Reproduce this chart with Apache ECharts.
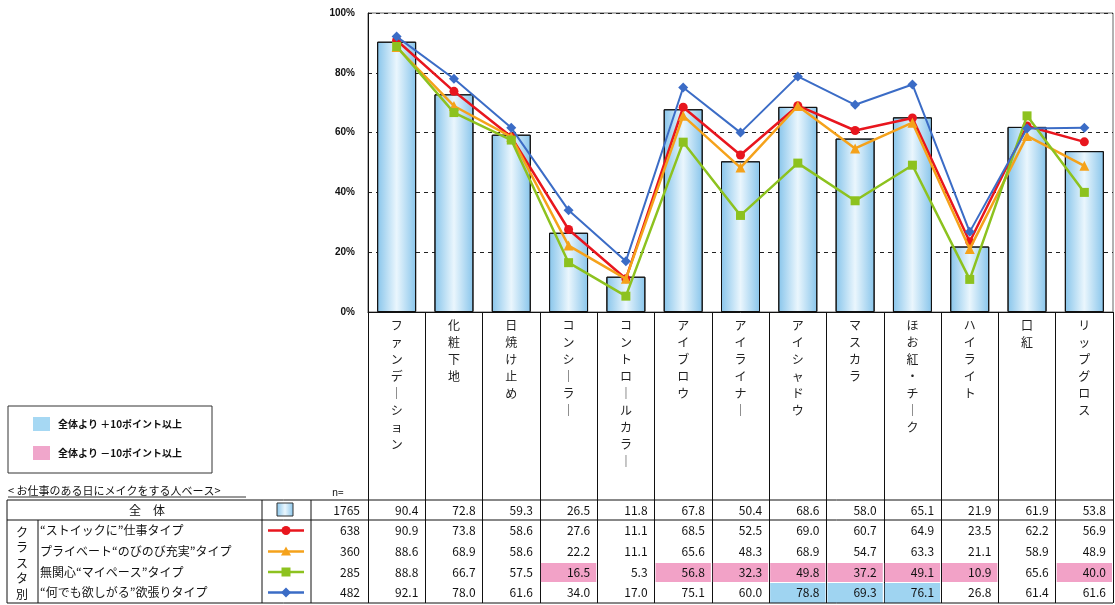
<!DOCTYPE html>
<html><head><meta charset="utf-8">
<script src="https://cdn.jsdelivr.net/npm/echarts@6/dist/echarts.min.js"></script>
<style>html,body{margin:0;padding:0;background:#fff}#c{width:1115px;height:605px}</style>
</head><body><div id="c"></div>
<script>
const categories = ['ファンデーション','化粧下地','日焼け止め','コンシーラー','コントロールカラー','アイブロウ','アイライナー','アイシャドウ','マスカラ','ほお紅・チーク','ハイライト','口紅','リップグロス'];
const totalLabel = '全　体';
const totalN = 1765;
const totalValues = [90.4,72.8,59.3,26.5,11.8,67.8,50.4,68.6,58.0,65.1,21.9,61.9,53.8];
const clusterNames = ['“ストイックに”仕事タイプ','プライベート“のびのび充実”タイプ','無関心“マイペース”タイプ','“何でも欲しがる”欲張りタイプ'];
const clusterN = [638,360,285,482];
const stoicValues = [90.9,73.8,58.6,27.6,11.1,68.5,52.5,69.0,60.7,64.9,23.5,62.2,56.9];
const privateValues = [88.6,68.9,58.6,22.2,11.1,65.6,48.3,68.9,54.7,63.3,21.1,58.9,48.9];
const mypaceValues = [88.8,66.7,57.5,16.5,5.3,56.8,32.3,49.8,37.2,49.1,10.9,65.6,40.0];
const greedyValues = [92.1,78.0,61.6,34.0,17.0,75.1,60.0,78.8,69.3,76.1,26.8,61.4,61.6];
const yTickLabels = ['0%','20%','40%','60%','80%','100%'];
const legendNotes = ['全体より ＋10ポイント以上','全体より －10ポイント以上'];
const baseNote = '< お仕事のある日にメイクをする人ベース>';
const clusterSide = 'クラスタ別';

const clusterValues = [stoicValues, privateValues, mypaceValues, greedyValues];
const lineColors = ['#E8161E','#F5A21B','#8DC21F','#3B6CC6'];
const lineSymbols = ['circle','triangle','rect','diamond'];
const lineSymbolSizes = [9,10,9,10];
const HI_BLUE = '#9FD4F1', HI_PINK = '#F2A2C7';
const FONT = '"Noto Sans CJK JP", "Noto Sans", sans-serif';

const barGrad = new echarts.graphic.LinearGradient(0,0,1,0,[
  {offset:0,color:'#88C5EB'},{offset:0.5,color:'#EAF6FD'},{offset:1,color:'#88C5EB'}]);

const chart = echarts.init(document.getElementById('c'), null, {renderer:'canvas'});

const series = [{
  name: totalLabel, type:'bar', data: totalValues, barWidth: 39,
  itemStyle:{color: barGrad, borderColor:'#111', borderWidth:1},
  z: 2
}];
clusterNames.forEach((nm,k)=>{
  series.push({
    name: nm, type:'line', data: clusterValues[k],
    symbol: lineSymbols[k], symbolSize: lineSymbolSizes[k], showSymbol:true,
    lineStyle:{color: lineColors[k], width: k===3?2:2.5},
    itemStyle:{color: lineColors[k]},
    z: 3 + (k===2?2:k===3?3:k)
  });
});

chart.setOption({
  animation:false,
  backgroundColor:'#fff',
  grid:{left:368, right:2, top:13, bottom:293, show:true, borderColor:'#666', borderWidth:1},
  xAxis:{
    type:'category', data: categories, boundaryGap:true,
    axisLine:{lineStyle:{color:'#111', width:1}},
    axisTick:{show:true, length:291, lineStyle:{color:'#111', width:1}},
    axisLabel:{
      interval:0, margin:5, verticalAlign:'top', hideOverlap:false,
      fontFamily: FONT, fontSize:12, color:'#222', lineHeight:17,
      formatter: s => s.split('').map(c => c==='ー' ? '｜' : c).join('\n')
    }
  },
  yAxis:{
    type:'value', min:0, max:100, interval:20,
    axisLine:{show:true, lineStyle:{color:'#111'}},
    axisTick:{show:false},
    axisLabel:{margin:13, fontFamily:'Arial, sans-serif', fontSize:10, fontWeight:'bold', color:'#111',
      formatter: v => yTickLabels[Math.round(v/20)]},
    splitLine:{show:true, lineStyle:{color:'#222', type:[4,4], width:1}}
  },
  series
});

function buildTable(){
  const c0 = chart.convertToPixel({xAxisIndex:0}, 0);
  const c1 = chart.convertToPixel({xAxisIndex:0}, 1);
  const cw = c1 - c0;
  const g = [];
  const L = 7, R = 1113;
  const rowTop = [500, 520, 541, 562, 582];
  const rowBottom = 603;
  const txt = (x,y,text,opt) => g.push({type:'text', x, y, silent:true, z:10,
    style:Object.assign({text, font:'12px '+FONT, fill:'#111', textAlign:'left', textVerticalAlign:'middle'}, opt||{})});
  const line = (x1,y1,x2,y2,col) => g.push({type:'line', silent:true, z:9,
    shape:{x1,y1,x2,y2}, style:{stroke:col||'#111', lineWidth:1}});

  clusterValues.forEach((vals,k)=>{
    vals.forEach((v,i)=>{
      const d = Math.round((v - totalValues[i])*10)/10;
      let col = null;
      if (d >= 10) col = HI_BLUE; else if (d <= -10) col = HI_PINK;
      if (col){
        const cx = chart.convertToPixel({xAxisIndex:0}, i);
        g.push({type:'rect', silent:true, z:1, shape:{x:cx-cw/2+1, y:rowTop[k+1]+1, width:cw-2, height:(k<3?rowTop[k+2]:rowBottom)-rowTop[k+1]-1}, style:{fill:col}});
      }
    });
  });

  line(L, rowTop[0], R, rowTop[0]);
  line(L, rowTop[1], R, rowTop[1]);
  line(L, rowBottom, R, rowBottom);
  line(L, rowTop[0], L, rowBottom);
  line(38, rowTop[1], 38, rowBottom);
  line(262, rowTop[0], 262, rowBottom);
  line(311, rowTop[0], 311, rowBottom);

  txt(8, 491, baseNote, {font:'11px '+FONT});
  line(8, 497, 246, 497, '#333');
  txt(332, 492, 'n=', {font:'10px '+FONT});

  const yT = (rowTop[0]+rowTop[1])/2;
  txt(147, yT, totalLabel, {textAlign:'center', font:'12px '+FONT});
  g.push({type:'rect', silent:true, z:10, shape:{x:277,y:503,width:16,height:13},
    style:{fill:barGrad, stroke:'#333', lineWidth:1}});
  txt(360, yT, String(totalN), {textAlign:'right'});
  totalValues.forEach((v,i)=>{
    const cx = chart.convertToPixel({xAxisIndex:0}, i);
    txt(cx+cw/2-7, yT, v.toFixed(1), {textAlign:'right'});
  });

  clusterNames.forEach((nm,k)=>{
    const yc = (rowTop[k+1] + (k<3?rowTop[k+2]:rowBottom))/2;
    txt(40, yc, nm, {font:'12px '+FONT});
    const col = lineColors[k];
    line(268, yc, 304, yc, col); g[g.length-1].style.lineWidth = 2.5;
    const sx = 286;
    if (k===0) g.push({type:'circle', silent:true, z:10, shape:{cx:sx, cy:yc, r:4.5}, style:{fill:col}});
    if (k===1) g.push({type:'polygon', silent:true, z:10, shape:{points:[[sx,yc-5],[sx+5,yc+4],[sx-5,yc+4]]}, style:{fill:col}});
    if (k===2) g.push({type:'rect', silent:true, z:10, shape:{x:sx-4.5, y:yc-4.5, width:9, height:9}, style:{fill:col}});
    if (k===3) g.push({type:'polygon', silent:true, z:10, shape:{points:[[sx,yc-5],[sx+5,yc],[sx,yc+5],[sx-5,yc]]}, style:{fill:col}});
    txt(360, yc, String(clusterN[k]), {textAlign:'right'});
    clusterValues[k].forEach((v,i)=>{
      const cx = chart.convertToPixel({xAxisIndex:0}, i);
      txt(cx+cw/2-7, yc, v.toFixed(1), {textAlign:'right'});
    });
  });
  clusterSide.split('').forEach((ch,j)=>{
    txt(22, 532 + j*15.5, ch, {textAlign:'center', font:'12px '+FONT});
  });

  g.push({type:'rect', silent:true, z:10, shape:{x:8, y:406, width:204, height:67},
    style:{fill:'#fff', stroke:'#333', lineWidth:1}});
  g.push({type:'rect', silent:true, z:11, shape:{x:33, y:417, width:17, height:14}, style:{fill:'#A6D8F3'}});
  g.push({type:'rect', silent:true, z:11, shape:{x:33, y:446, width:17, height:14}, style:{fill:'#F0A6CB'}});
  txt(58, 424, legendNotes[0], {font:'bold 10px '+FONT});
  txt(58, 453, legendNotes[1], {font:'bold 10px '+FONT});

  chart.setOption({graphic:{elements:g}});
}
buildTable();
</script>
</body></html>
